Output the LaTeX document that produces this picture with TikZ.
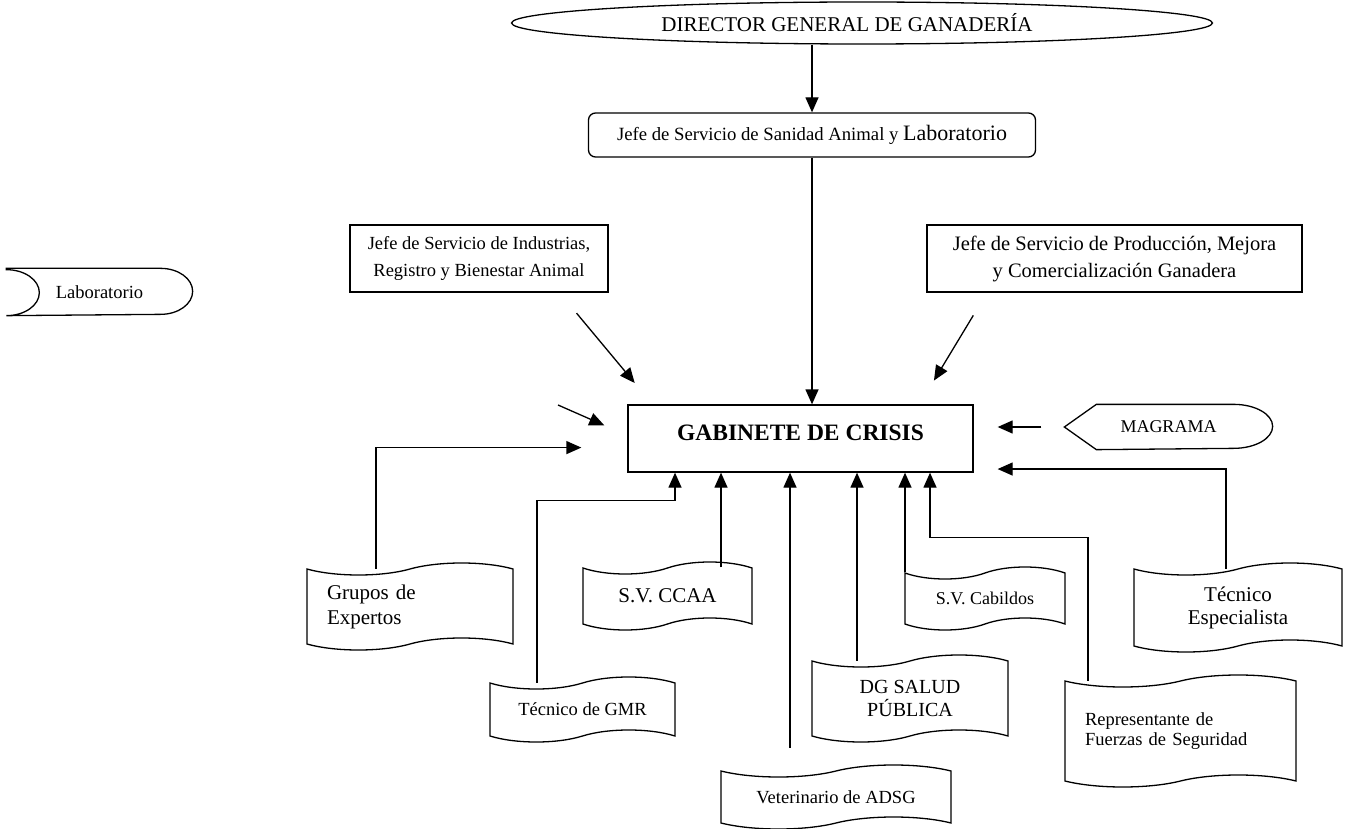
\documentclass[tikz,border=0pt]{standalone}
\usepackage{fontspec}
\setmainfont{Liberation Serif}
\usetikzlibrary{arrows.meta,positioning,calc,shapes.geometric,shapes.symbols}

\begin{document}
\begin{tikzpicture}[x=1pt,y=1pt,
    line width=1.3pt,
    box/.style={rectangle,draw,align=center,inner sep=0pt},
    tapebox/.style={tape,draw,align=center,inner sep=0pt,tape bend height=12pt},
    >={Triangle[length=15pt,width=13pt]}]
    \useasboundingbox (0,0) rectangle (1350,-829);

    \node[ellipse,draw,minimum width=701pt,minimum height=42pt,inner sep=0pt,font=\fontsize{21}{25}\selectfont] (dir) at (862,-23) {DIRECTOR GENERAL DE GANADERÍA\hspace*{30pt}};
    \node[box,rounded corners=7pt,minimum width=447pt,minimum height=44pt,font=\fontsize{18.7}{22}\selectfont] (san) at (812,-135) {Jefe de Servicio de Sanidad Animal y {\fontsize{22}{25}\selectfont Laboratorio}};
    \node[box,minimum width=258pt,minimum height=67pt,font=\fontsize{18.5}{27}\selectfont] (ind) at (479,-258.5) {Jefe de Servicio de Industrias,\\Registro y Bienestar Animal};
    \node[box,minimum width=375pt,minimum height=67pt,font=\fontsize{20.5}{27}\selectfont] (prod) at (1114.5,-258.5) {Jefe de Servicio de Producción, Mejora\\y Comercialización Ganadera};
    \node[box,minimum width=345pt,minimum height=67pt,text depth=12pt,font=\bfseries\fontsize{23.5}{28}\selectfont] (gab) at (800.5,-438.5) {GABINETE DE CRISIS};

    % side tags
    \node[minimum width=185pt,minimum height=46pt,inner sep=0pt,font=\fontsize{18.5}{22}\selectfont] (lab) at (99.5,-292) {Laboratorio};
    \draw (lab.north west) -- ([xshift=-32pt]lab.north east) arc[start angle=90,end angle=-90,x radius=32pt,y radius=23pt]
      -- (lab.south west) arc[start angle=-90,end angle=90,x radius=33pt,y radius=23pt] -- cycle;
    \node[minimum width=207pt,minimum height=44pt,inner sep=0pt,font=\fontsize{18}{22}\selectfont] (mag) at (1168.5,-427) {MAGRAMA};
    \draw (mag.west) -- ([xshift=32pt]mag.north west) -- ([xshift=-39pt]mag.north east)
      arc[start angle=90,end angle=-90,x radius=39pt,y radius=22pt] -- ([xshift=32pt]mag.south west) -- cycle;

    % tapes
    \node[tapebox,minimum width=206pt,minimum height=87pt,text width=166pt,align=left,font=\fontsize{21}{25}\selectfont] (grup) at (410,-606.5) {Grupos de\\Expertos};
    \node[tapebox,minimum width=169pt,minimum height=68pt,font=\fontsize{21}{25}\selectfont] (ccaa) at (667.5,-596) {S.V. CCAA};
    \node[tapebox,minimum width=185pt,minimum height=65pt,font=\fontsize{18.5}{22}\selectfont] (gmr) at (582.5,-709.5) {Técnico de GMR};
    \node[tapebox,minimum width=230pt,minimum height=64pt,font=\fontsize{18.5}{22}\selectfont] (vet) at (836,-797) {Veterinario de ADSG};
    \node[tapebox,minimum width=196pt,minimum height=87pt,font=\fontsize{20}{23}\selectfont] (salud) at (910,-698.5) {DG SALUD\\PÚBLICA};
    \node[tapebox,minimum width=160pt,minimum height=63pt,font=\fontsize{18}{22}\selectfont] (cab) at (985,-598.5) {S.V. Cabildos};
    \node[tapebox,minimum width=231pt,minimum height=112pt,text width=191pt,align=left,font=\fontsize{18.5}{20}\selectfont] (repr) at (1180.5,-731) {Representante de\\Fuerzas de Seguridad};
    \node[tapebox,minimum width=208pt,minimum height=89pt,font=\fontsize{21}{23}\selectfont] (tesp) at (1238,-607.5) {Técnico\\Especialista};

    \coordinate (stray) at (558,-405);

    \draw[->] (dir.south -| san.north) -- (san.north);
    \draw[->] (san.south) -- (san.south |- gab.north);
    \draw[->,shorten <=26.7pt,shorten >=27.8pt] (ind.-23.65) -- (gab.167.92);
    \draw[->,shorten <=26.6pt,shorten >=27.8pt] (prod.-165.17) -- (gab.16.81);
    \draw[->,shorten >=25.2pt] (stray) -- (gab.179.27);
    \draw[->,shorten <=23pt,shorten >=24pt] (mag.west) -- (gab.east |- mag.west);
    \draw[->,shorten >=46pt] ([xshift=-34pt]grup.north) |- (gab.183.8);
    \draw[->] ([xshift=-45.5pt]gmr.north) -- ++(0,182) -| ([xshift=-125.5pt]gab.south);
    \draw[->] ([xshift=53.5pt]ccaa.north) -- ([xshift=53.5pt]ccaa.north |- gab.south);
    \draw[->,shorten <=23pt] ([xshift=-46pt]vet.north) -- ([xshift=-46pt]vet.north |- gab.south);
    \draw[->] ([xshift=-53pt]salud.north) -- ([xshift=-53pt]salud.north |- gab.south);
    \draw[->] ([xshift=-80pt]cab.north) -- ([xshift=-80pt]cab.north |- gab.south);
    \draw[->] ([xshift=-92.5pt]repr.north) -- ++(0,143) -| ([xshift=129.5pt]gab.south);
    \draw[->,shorten >=24pt] ([xshift=-12pt]tesp.north) |- (gab.-10.35);
\end{tikzpicture}
\end{document}
